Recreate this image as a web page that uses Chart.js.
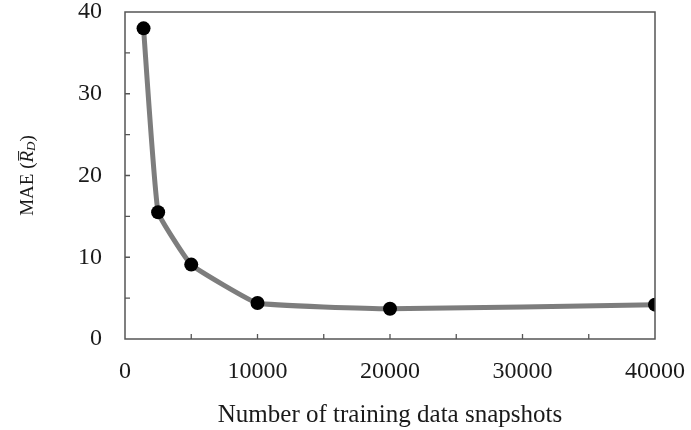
<!DOCTYPE html>
<html>
<head>
<meta charset="utf-8">
<script src="https://cdn.jsdelivr.net/npm/chart.js@4/dist/chart.umd.min.js"></script>
<style>
  html, body { margin: 0; padding: 0; background: #fff; }
  #wrap { width: 691px; height: 430px; }
</style>
</head>
<body>
<div id="wrap"><canvas id="c" width="691" height="430"></canvas></div>
<script>
// Training set size vs. mean absolute error
const snapshots = [1400, 2500, 5000, 10000, 20000, 40000];
const maeValues = [38.0, 15.5, 9.1, 4.4, 3.7, 4.2];
const xTickValues = [0, 10000, 20000, 30000, 40000];
const yTickValues = [0, 10, 20, 30, 40];

const serif = "'Liberation Serif', 'Times New Roman', serif";

// Inward tick marks every half step plus a closed frame round the plot
const frameTicks = {
  id: 'frameTicks',
  afterDatasetsDraw(chart) {
    const { ctx, chartArea: a, scales } = chart;
    ctx.save();
    ctx.strokeStyle = '#555';
    ctx.lineWidth = 1.5;
    ctx.strokeRect(a.left, a.top, a.right - a.left, a.bottom - a.top);
    ctx.lineWidth = 1.3;
    ctx.beginPath();
    for (let v = 5000; v < 40000; v += 5000) {
      const px = scales.x.getPixelForValue(v);
      ctx.moveTo(px, a.bottom);
      ctx.lineTo(px, a.bottom - 5);
    }
    for (let v = 5; v < 40; v += 5) {
      const py = scales.y.getPixelForValue(v);
      ctx.moveTo(a.left, py);
      ctx.lineTo(a.left + 5, py);
    }
    ctx.stroke();
    ctx.restore();
  }
};

// Vertical axis title: MAE (R̄_D) with italic symbol and subscript
const yTitle = {
  id: 'yTitle',
  afterDraw(chart) {
    const { ctx, chartArea: a } = chart;
    const parts = [
      { t: 'MAE (', f: `19px ${serif}`, dy: 0 },
      { t: 'R\u0305', f: `italic 19px ${serif}`, dy: 0 },
      { t: 'D', f: `italic 13px ${serif}`, dy: 4 },
      { t: ')', f: `19px ${serif}`, dy: 0 }
    ];
    ctx.save();
    let total = 0;
    parts.forEach(p => { ctx.font = p.f; p.w = ctx.measureText(p.t).width; total += p.w; });
    ctx.translate(28, (a.top + a.bottom) / 2);
    ctx.rotate(-Math.PI / 2);
    ctx.fillStyle = '#1a1a1a';
    ctx.textBaseline = 'middle';
    let x = -total / 2;
    parts.forEach(p => {
      ctx.font = p.f;
      ctx.fillText(p.t, x, p.dy);
      x += p.w;
    });
    ctx.restore();
  }
};

new Chart(document.getElementById('c'), {
  type: 'line',
  data: {
    datasets: [{
      data: snapshots.map((s, i) => ({ x: s, y: maeValues[i] })),
      borderColor: '#7d7d7d',
      borderWidth: 5,
      tension: 0.1,
      pointRadius: 7,
      pointHoverRadius: 7,
      pointBackgroundColor: '#000',
      pointBorderColor: '#000',
      pointBorderWidth: 0
    }]
  },
  options: {
    responsive: false,
    animation: false,
    events: [],
    layout: { padding: { top: 12, right: 36, left: 0, bottom: 0 } },
    plugins: { legend: { display: false }, tooltip: { enabled: false } },
    scales: {
      x: {
        type: 'linear',
        min: 0, max: 40000,
        afterBuildTicks: s => { s.ticks = xTickValues.map(v => ({ value: v })); },
        afterFit: s => { s.height = 91; s.paddingLeft = 0; s.paddingRight = 0; },
        grid: { display: false, drawTicks: false },
        border: { display: false },
        ticks: {
          color: '#1a1a1a',
          padding: 18,
          maxRotation: 0,
          font: { family: serif, size: 24 },
          callback: v => String(v)
        },
        title: {
          display: true,
          text: 'Number of training data snapshots',
          color: '#1a1a1a',
          font: { family: serif, size: 25 },
          padding: { top: 6, bottom: 0 }
        }
      },
      y: {
        min: 0, max: 40,
        afterBuildTicks: s => { s.ticks = yTickValues.map(v => ({ value: v })); },
        afterFit: s => { s.width = 125; s.paddingTop = 0; s.paddingBottom = 0; },
        grid: { display: false, drawTicks: false },
        border: { display: false },
        ticks: {
          color: '#1a1a1a',
          padding: 23,
          font: { family: serif, size: 24 }
        }
      }
    }
  },
  plugins: [frameTicks, yTitle]
});
</script>
</body>
</html>
